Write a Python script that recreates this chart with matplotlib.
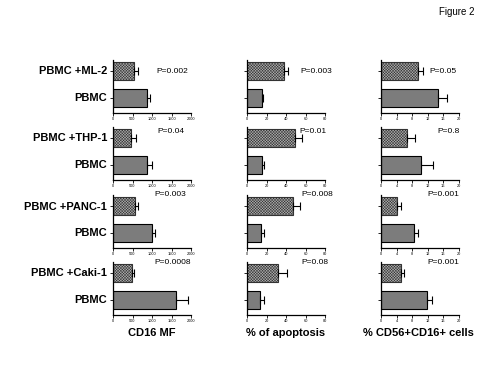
import numpy as np
import matplotlib
matplotlib.use("Agg")
import matplotlib.pyplot as plt

plt.rcParams['font.family'] = ['Liberation Sans', 'DejaVu Sans']
plt.rcParams['hatch.linewidth'] = 0.35

# cell lines (one row of panels each)
lines = ["PBMC +ML-2", "PBMC +THP-1", "PBMC +PANC-1", "PBMC +Caki-1"]
xlabels = ["CD16 MF", "% of apoptosis", "% CD56+CD16+ cells"]

# CD16 MF
cd16_co = [550, 460, 560, 490]
cd16_co_err = [80, 130, 80, 40]
cd16_pbmc = [870, 880, 1010, 1620]
cd16_pbmc_err = [90, 110, 60, 300]
cd16_p = ["P=0.002", "P=0.04", "P=0.003", "P=0.0008"]

# % apoptosis
apo_co = [37.5, 49.5, 47, 32]
apo_co_err = [5, 7, 7, 9.5]
apo_pbmc = [15, 15.5, 14.5, 13.5]
apo_pbmc_err = [1.5, 1.5, 3, 4]
apo_p = ["P=0.003", "P=0.01", "P=0.008", "P=0.08"]

# % CD56+CD16+ cells
nk_co = [9.4, 6.7, 4.2, 5.0]
nk_co_err = [1.3, 2.0, 1.0, 0.8]
nk_pbmc = [14.6, 10.2, 8.5, 11.8]
nk_pbmc_err = [2.3, 3.1, 1.0, 1.4]
nk_p = ["P=0.05", "P=0.8", "P=0.001", "P=0.001"]

xticks = [[0, 500, 1000, 1500, 2000], [0, 20, 40, 60, 80], [0, 4, 8, 12, 16, 20]]

cols = [(cd16_co, cd16_co_err, cd16_pbmc, cd16_pbmc_err, cd16_p),
        (apo_co, apo_co_err, apo_pbmc, apo_pbmc_err, apo_p),
        (nk_co, nk_co_err, nk_pbmc, nk_pbmc_err, nk_p)]

W, H = 500, 375
fig = plt.figure(figsize=(5, 3.75), dpi=100)
fig.patch.set_facecolor("white")

col_left = [113, 247, 381]
col_w = 78
row_top = [60, 127, 195, 262]
row_h = 53

# where the P values go (axes fraction)
p_x = [[0.56, 0.57, 0.53, 0.53], [0.68, 0.67, 0.70, 0.70], [0.62, 0.72, 0.60, 0.60]]
p_y = [0.78, 0.92, 1.0, 0.99]

err_kw = dict(elinewidth=0.8, capsize=3, capthick=0.8)

for c, (co, co_err, pb, pb_err, pv) in enumerate(cols):
    for r in range(4):
        ax = fig.add_axes([col_left[c] / W, 1 - (row_top[r] + row_h) / H, col_w / W, row_h / H])
        ax.barh([1], [co[r]], height=0.68, color="#b0b0b0", edgecolor="#333333",
                hatch="xxxxxxxxxxxx", linewidth=0.8,
                xerr=[[0], [co_err[r]]], error_kw=err_kw)
        ax.barh([0], [pb[r]], height=0.68, color="#7c7c7c", edgecolor="black",
                linewidth=0.8,
                xerr=[[0], [pb_err[r]]], error_kw=err_kw)
        ax.set_ylim(-0.57, 1.43)
        ax.set_xlim(0, xticks[c][-1])
        ax.set_xticks(xticks[c])
        ax.set_xticklabels([str(t) for t in xticks[c]], fontsize=2.8)
        ax.set_yticks([0, 1])
        ax.set_yticklabels([])
        ax.tick_params(axis="both", length=2, width=0.6, pad=1)
        for s in ["top", "right"]:
            ax.spines[s].set_visible(False)
        for s in ["left", "bottom"]:
            ax.spines[s].set_linewidth(0.9)
        ax.set_facecolor("none")
        ax.text(p_x[c][r], p_y[r], pv[r], transform=ax.transAxes, fontsize=6,
                ha="left", va="center")

# row labels
for r in range(4):
    top_c = row_top[r] + 11.5
    bot_c = row_top[r] + 38
    fig.text(107 / W, 1 - top_c / H, lines[r], fontsize=8, fontweight="bold",
             ha="right", va="center")
    fig.text(107 / W, 1 - bot_c / H, "PBMC", fontsize=8, fontweight="bold",
             ha="right", va="center")

xlab_x = [152, 286, 418]
for c in range(3):
    fig.text(xlab_x[c] / W, 1 - 333 / H, xlabels[c], fontsize=8, fontweight="bold",
             ha="center", va="center")

fig.text(457 / W, 1 - 12 / H, "Figure 2", fontsize=7, ha="center", va="center")

fig.savefig("out.png", dpi=100, facecolor="white")
